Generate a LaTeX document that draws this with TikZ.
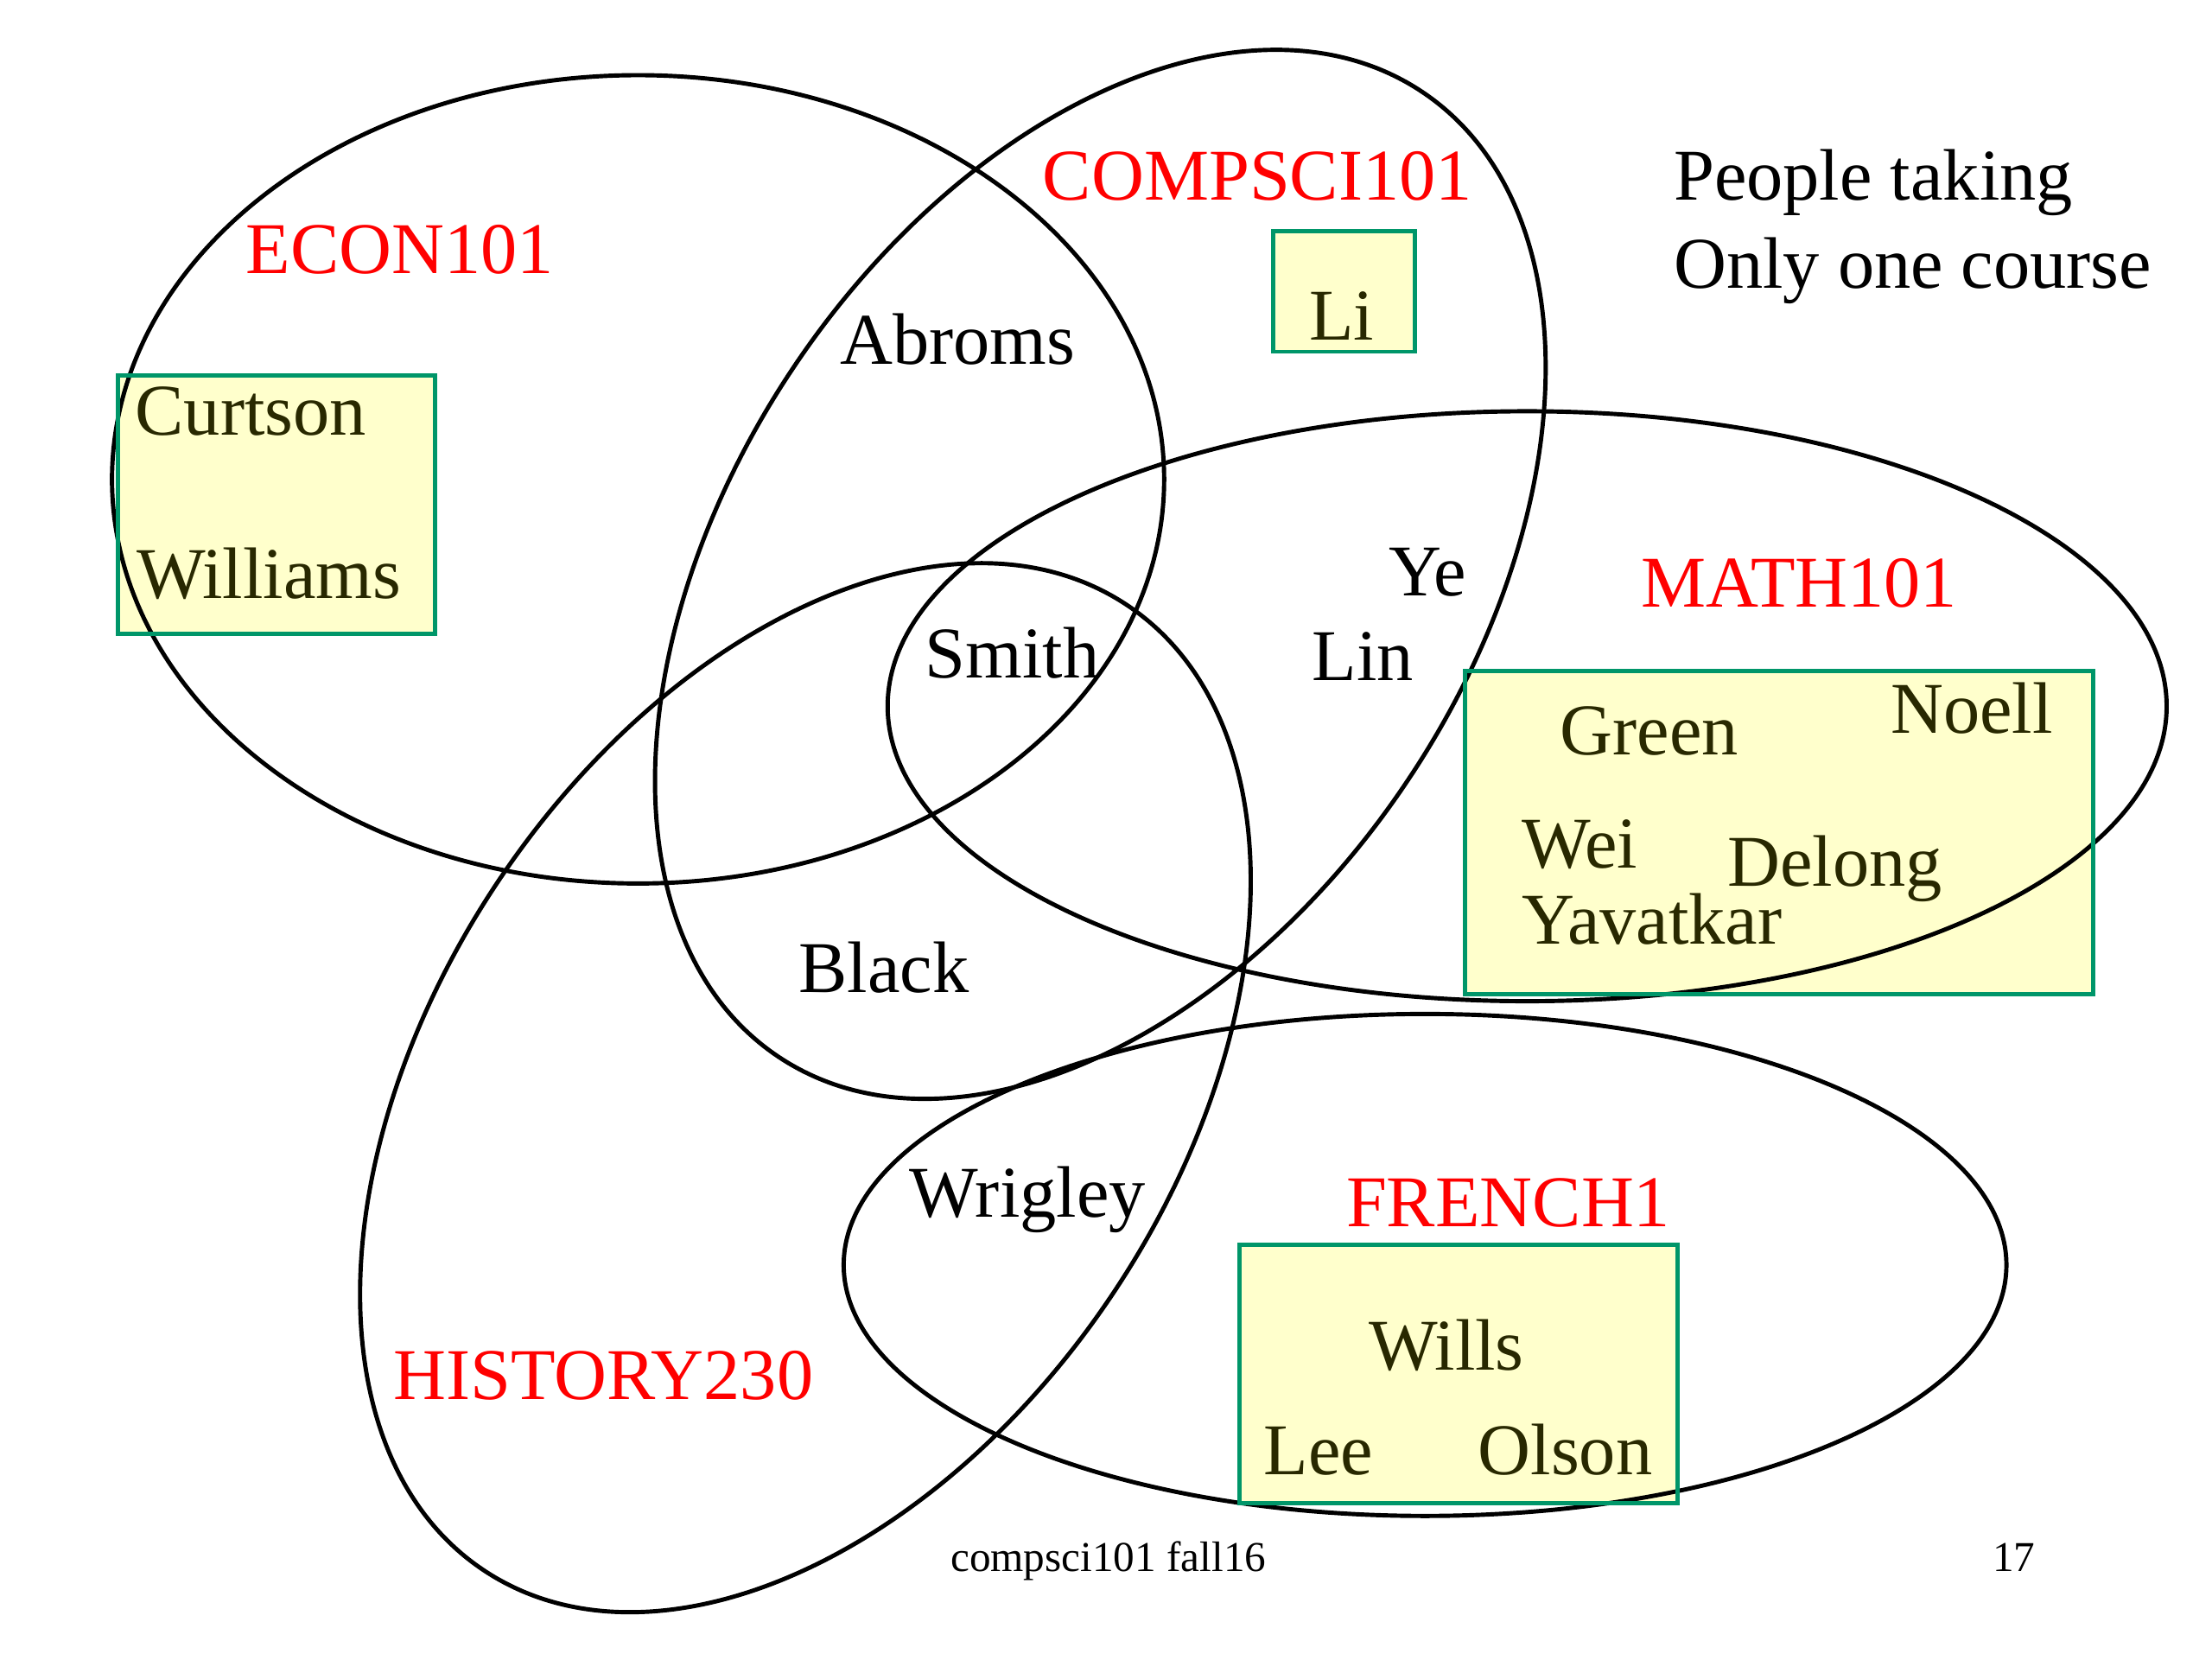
\documentclass[tikz,border=0pt]{standalone}
\usepackage{fontspec}
\setmainfont{Liberation Serif}
\definecolor{boxgreen}{RGB}{0,150,105}
\definecolor{boxyellow}{RGB}{255,255,204}
\definecolor{boxtext}{RGB}{40,40,0}

\begin{document}
\begin{tikzpicture}[x=0.01641cm,y=0.01641cm]
\tikzset{set/.style = {draw, line width=1.4pt}}
\tikzset{box/.style = {draw=boxgreen, line width=1.4pt}}
\tikzset{course/.style = {anchor=base west, inner sep=0pt, text=red, font=\fontsize{24}{28}\selectfont}}
\tikzset{person/.style = {anchor=base west, inner sep=0pt, font=\fontsize{24}{28}\selectfont}}
\tikzset{only/.style = {person, text=boxtext}}
\tikzset{foot/.style = {anchor=base west, inner sep=0pt, font=\fontsize{14}{16}\selectfont}}
\useasboundingbox (0,0) rectangle (1560,-1170);

%boxes
\fill[boxyellow] (83,-265) rectangle (307,-447);
\fill[boxyellow] (898,-163) rectangle (998,-248);
\fill[boxyellow] (1033,-473) rectangle (1476,-701);
\fill[boxyellow] (874,-878) rectangle (1183,-1060);

%sets
% ----- econ
\draw[set] (450,-338) ellipse [x radius=371, y radius=285];
% ----- compsci
\draw[set, rotate around={56.3:(776,-405)}] (776,-405) ellipse [x radius=409, y radius=261];
% ----- history
\draw[set, rotate around={56.3:(568,-767)}] (568,-767) ellipse [x radius=409, y radius=261];
% ----- math
\draw[set] (1077,-498) ellipse [x radius=451, y radius=208];
% ----- french
\draw[set] (1005,-892) ellipse [x radius=410, y radius=177];

\draw[box] (83,-265) rectangle (307,-447);
\draw[box] (898,-163) rectangle (998,-248);
\draw[box] (1033,-473) rectangle (1476,-701);
\draw[box] (874,-878) rectangle (1183,-1060);

%course names
\node[course] (econ) at (173,-193) {ECON101};
\node[course] (cs) at (735,-141) {COMPSCI101};
\node[course] (math) at (1157,-428) {MATH101};
\node[course] (french) at (949,-865) {FRENCH1};
\node[course] (hist) at (277,-987) {HISTORY230};

%people
\node[person] (abroms) at (592,-257) {Abroms};
\node[person] (smith) at (652,-478) {Smith};
\node[person] (ye) at (979,-420) {Ye};
\node[person] (lin) at (925,-480) {Lin};
\node[person] (black) at (563,-700) {Black};
\node[person] (wrigley) at (641,-858) {Wrigley};

%---- only one course
\node[only] (curtson) at (95,-307) {Curtson};
\node[only] (williams) at (96,-422) {Williams};
\node[only] (li) at (923,-240) {Li};
\node[only] (green) at (1100,-532) {Green};
\node[only] (noell) at (1333,-517) {Noell};
\node[only] (wei) at (1073,-612) {Wei};
\node[only] (delong) at (1218,-625) {Delong};
\node[only] (yavatkar) at (1073,-666) {Yavatkar};
\node[only] (wills) at (965,-966) {Wills};
\node[only] (lee) at (891,-1040) {Lee};
\node[only] (olson) at (1042,-1040) {Olson};

\node[person] (note1) at (1180,-141) {People taking};
\node[person] (note2) at (1180,-203) {Only one course};

%footer
\node[foot] (course) at (670,-1108) {compsci101 fall16};
\node[foot] (page) at (1405,-1108) {17};
\end{tikzpicture}
\end{document}
